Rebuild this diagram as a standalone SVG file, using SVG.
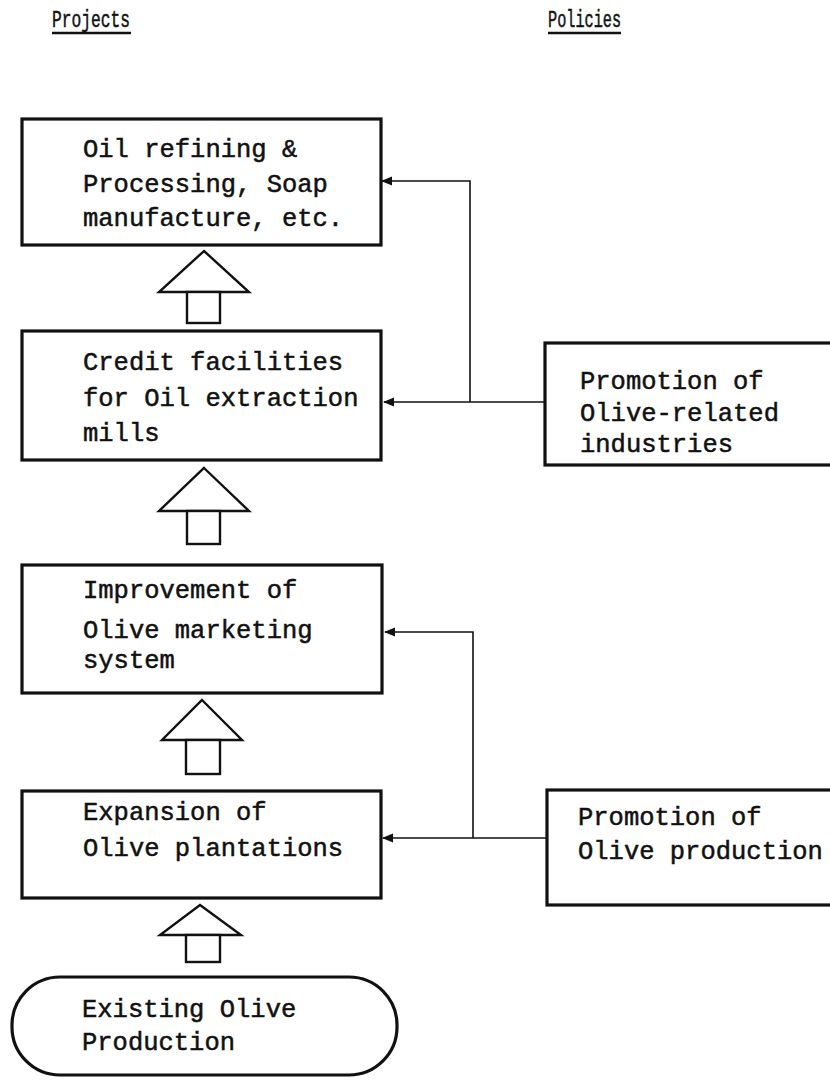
<svg xmlns="http://www.w3.org/2000/svg" width="830" height="1080" viewBox="0 0 830 1080">
<style>
.box{fill:#fff;stroke:#111;stroke-width:3.2}
.t{font-family:"Liberation Mono","DejaVu Sans Mono",monospace;font-size:25.5px;fill:#111;stroke:#111;stroke-width:0.5}
.h{font-family:"Liberation Mono","DejaVu Sans Mono",monospace;font-size:24px;fill:#111;stroke:#111;stroke-width:0.5}
.ul{stroke:#111;stroke-width:2.5}
.c{fill:none;stroke:#111;stroke-width:1.6}
.up{fill:#fff;stroke:#111;stroke-width:2.4;stroke-linejoin:miter}
</style>
<defs>
<marker id="ah" viewBox="0 0 10 10" refX="9" refY="5" markerWidth="7" markerHeight="7" orient="auto">
<path d="M0,1 L10,5 L0,9 Z" fill="#111"/>
</marker>
</defs>
<rect width="830" height="1080" fill="#fff"/>
<g id="headers">
<text class="h" x="52" y="27" textLength="78" lengthAdjust="spacingAndGlyphs">Projects</text>
<line class="ul" x1="52" y1="33" x2="131" y2="33"/>
<text class="h" x="548" y="27" textLength="73" lengthAdjust="spacingAndGlyphs">Policies</text>
<line class="ul" x1="548" y1="33" x2="621" y2="33"/>
</g>
<g id="connectors">
<path class="c" d="M545,402 H384" marker-end="url(#ah)"/>
<path class="c" d="M470,402 V181 H382" marker-end="url(#ah)"/>
<path class="c" d="M547,838 H383" marker-end="url(#ah)"/>
<path class="c" d="M473,838 V632 H385" marker-end="url(#ah)"/>
<g id="uparrows">
<path class="up" d="M204,251 L249,292 L159,292 Z"/><rect class="up" x="187" y="292" width="33" height="31"/>
<path class="up" d="M204,468 L249,511 L159,511 Z"/><rect class="up" x="187" y="511" width="33" height="33"/>
<path class="up" d="M202,700 L242,740 L162,740 Z"/><rect class="up" x="186" y="740" width="34" height="34"/>
<path class="up" d="M200,905 L241,935 L160,935 Z"/><rect class="up" x="186" y="935" width="34" height="27"/>
</g>
</g>
<g id="n-refining">
<rect class="box" x="22" y="119" width="359" height="126"/>
<text class="t" x="83" y="157">Oil refining &amp;</text>
<text class="t" x="83" y="192">Processing, Soap</text>
<text class="t" x="83" y="226">manufacture, etc.</text>
</g>
<g id="n-credit">
<rect class="box" x="22" y="331" width="359" height="129"/>
<text class="t" x="83" y="370">Credit facilities</text>
<text class="t" x="83" y="406">for Oil extraction</text>
<text class="t" x="83" y="441">mills</text>
</g>
<g id="n-marketing">
<rect class="box" x="22" y="565" width="360" height="128"/>
<text class="t" x="83" y="598">Improvement of</text>
<text class="t" x="83" y="638">Olive marketing</text>
<text class="t" x="83" y="668">system</text>
</g>
<g id="n-expansion">
<rect class="box" x="22" y="791" width="359" height="107"/>
<text class="t" x="83" y="820">Expansion of</text>
<text class="t" x="83" y="856">Olive plantations</text>
</g>
<g id="n-existing">
<rect class="box" x="12" y="977" width="385" height="98" rx="48" ry="48"/>
<text class="t" x="82" y="1017">Existing Olive</text>
<text class="t" x="82" y="1050">Production</text>
</g>
<g id="n-industries">
<rect class="box" x="545" y="343" width="300" height="122"/>
<text class="t" x="580" y="389">Promotion of</text>
<text class="t" x="580" y="421">Olive-related</text>
<text class="t" x="580" y="452">industries</text>
</g>
<g id="n-production">
<rect class="box" x="547" y="790" width="300" height="115"/>
<text class="t" x="578" y="825">Promotion of</text>
<text class="t" x="578" y="859">Olive production</text>
</g>
</svg>
